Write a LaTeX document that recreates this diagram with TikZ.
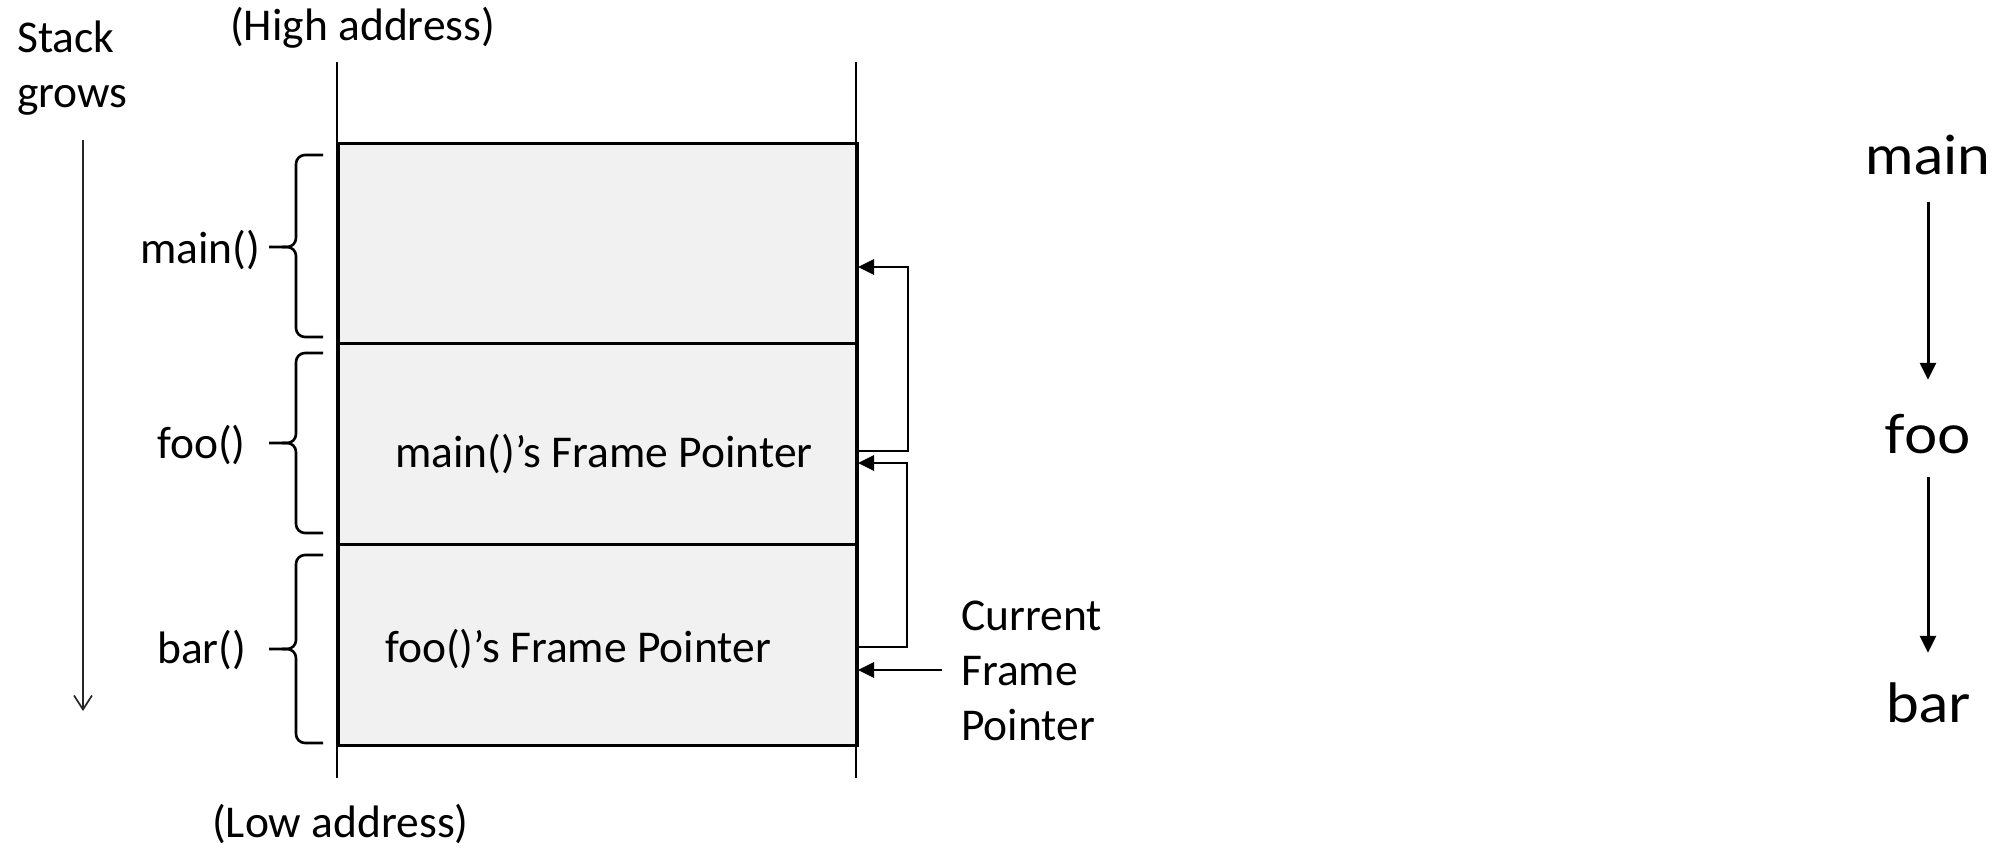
\documentclass[tikz,border=0pt]{standalone}
\usepackage{fontspec}
\setmainfont{Carlito}
\newfontfamily\callfont[FakeStretch=1.09]{Lato}
\usetikzlibrary{arrows.meta}
\definecolor{cellfill}{HTML}{F1F1F1}
\begin{document}
\begin{tikzpicture}[x=1pt,y=-1pt,
  txt/.style={font=\fontsize{45.5}{55}\selectfont, inner sep=0pt},
  cell/.style={draw, line width=2.8pt, fill=cellfill, minimum width=519pt,
    minimum height=201pt, anchor=north west, inner sep=0pt},
  wall/.style={line width=2.8pt},
  brc/.style={line width=2.6pt, rounded corners=9pt},
  ptr/.style={line width=2.8pt, -{Triangle[length=16pt,width=15pt]}},
  growarrow/.style={line width=1.7pt, black!85, -{Straight Barb[length=14pt,width=18pt,line width=1.7pt]}},
  callname/.style={font=\callfont\fontsize{54}{60}\selectfont, inner sep=0pt,
    anchor=base, text height=30pt, text depth=0pt},
  calledge/.style={line width=3pt, -{Triangle[length=17pt,width=16pt]}}]
\useasboundingbox (0,0) rectangle (2005,848);

% stack frames
\node[cell] (fmain) at (337,142) {};
\node[cell] (ffoo)  at (337,342) {};
\node[cell] (fbar)  at (337,543) {};

% stack walls
\coordinate (wlt) at (337,62);  \coordinate (wlb) at (337,778);
\coordinate (wrt) at (856,62);  \coordinate (wrb) at (856,778);
\draw[wall] (wlt) -- (wlb);
\draw[wall] (wrt) -- (wrb);

% address labels
\node[txt, anchor=base west] (high) at (230,41) {(High address)};
\node[txt, anchor=base west] (low)  at (212,837) {(Low address)};

% growth direction
\node[txt, anchor=west, align=left] (grows) at (17,68) {Stack\\grows};
\coordinate (g1) at (83,140);
\coordinate (g2) at (83,711);
\draw[growarrow] (g1) -- (g2);

% frame labels and braces
\node[txt, anchor=base west] (lmain) at (140,263) {main()};
\node[txt, anchor=base west] (lfoo)  at (157,458) {foo()};
\node[txt, anchor=base west] (lbar)  at (157,663) {bar()};
\newcommand\framebrace[3]{%
  \draw[brc] (323,#1) -- (296,#1) -- (296,#2) -- (269,#2);
  \draw[brc] (323,#3) -- (296,#3) -- (296,#2) -- (282,#2);}
\framebrace{155}{247}{337}
\framebrace{353}{443}{533}
\framebrace{555}{649}{743}

% saved frame pointers
\node[txt, anchor=base west] (mfp) at (395,467) {main()’s Frame Pointer};
\node[txt, anchor=base west] (ffp) at (385,662) {foo()’s Frame Pointer};

% pointer chain
\coordinate (mfpout) at (856,451);
\coordinate (mainin) at (858,267);
\coordinate (ffpout) at (856,647);
\coordinate (fooin)  at (858,463);
\draw[ptr] (mfpout) -- ++(52,0) |- (mainin);
\draw[ptr] (ffpout) -- ++(51,0) |- (fooin);

\node[txt, anchor=west, align=left] (cur) at (961,671) {Current\\Frame\\Pointer};
\coordinate (barin) at (858,670);
\draw[ptr] (cur.west |- barin) ++(-19,0) -- (barin);

% call chain
\node[callname] (cmain) at (1928,175) {main};
\node[callname] (cfoo)  at (1928,453) {foo};
\node[callname] (cbar)  at (1928,722) {bar};
\draw[calledge, shorten <=27pt, shorten >=43pt] (cmain.south) -- (cfoo.north);
\draw[calledge, shorten <=24pt, shorten >=39pt] (cfoo.south) -- (cbar.north);
\end{tikzpicture}
\end{document}
